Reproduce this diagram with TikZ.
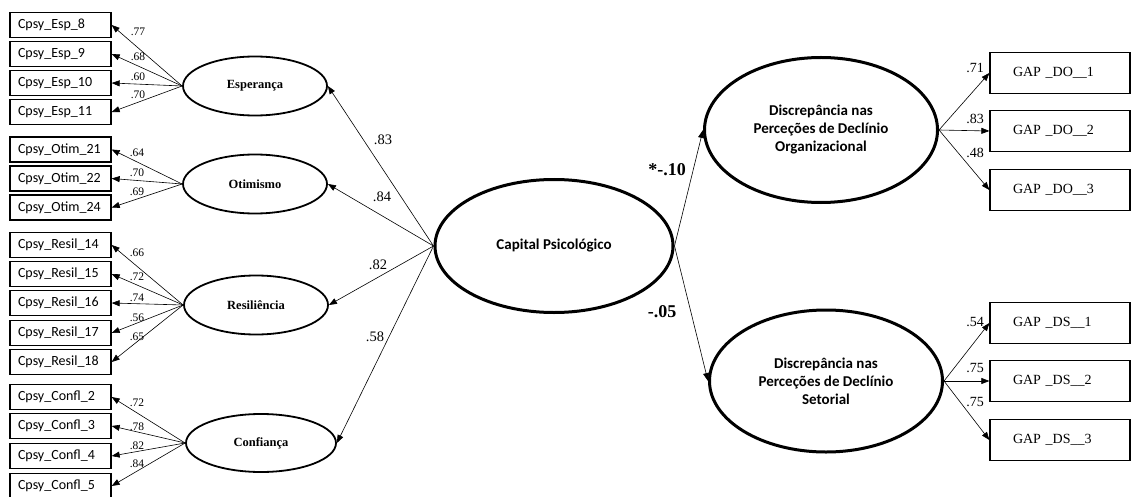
\documentclass[tikz,border=0pt]{standalone}
\usepackage{fontspec}
\setmainfont{Liberation Serif}
\newfontfamily\calibri{Carlito}
\usetikzlibrary{shapes.geometric,arrows.meta}
\begin{document}
\begin{tikzpicture}[x=1pt,y=-1pt,
  item/.style={draw,line width=1.3pt,minimum height=25pt,text width=85pt,
    inner xsep=8pt,inner ysep=0pt,align=left,
    font=\calibri\fontsize{14}{15}\selectfont},
  gapbox/.style={draw,line width=1.3pt,minimum height=41pt,text width=94pt,
    inner xsep=23pt,inner ysep=0pt,align=left,
    font=\fontsize{14}{16}\selectfont},
  factor/.style={ellipse,draw,line width=1.8pt,minimum width=144pt,
    minimum height=59pt,inner sep=0pt,font=\bfseries\fontsize{12.5}{14}\selectfont},
  latent/.style={ellipse,draw,line width=3pt,inner sep=0pt,align=center,
    font=\calibri\bfseries\fontsize{15}{18}\selectfont},
  conn/.style={-{Triangle[length=8pt,width=6pt]},line width=0.6pt},
  smallload/.style={inner sep=0pt,font=\fontsize{11.5}{13}\selectfont},
  bigload/.style={inner sep=0pt,font=\fontsize{14.5}{16}\selectfont},
  pathload/.style={inner sep=0pt,font=\bfseries\fontsize{18}{20}\selectfont}]
\useasboundingbox (0,0) rectangle (1131,497);

% first-order factors of psychological capital
\node[factor] (esp) at (255,86) {Esperança};
\node[factor] (oti) at (255,184) {Otimismo};
\node[factor] (res) at (256,305) {Resiliência};
\node[factor,minimum width=150pt,minimum height=58pt] (con) at (261,443) {Confiança};

% indicators and loadings
\foreach \n/\y/\l/\ly [count=\i] in {8/25/.77/32, 9/54/.68/57, 10/83/.60/77, 11/112/.70/95}{
  \node[item] (esp\i) at (60.5,\y) {Cpsy\_Esp\_\n};
  \draw[conn] (esp.west) -- (esp\i.east);
  \node[smallload] (lesp\i) at (138,\ly) {\l};
}
\foreach \n/\y/\l/\ly [count=\i] in {21/149.5/.64/153, 22/178.5/.70/173, 24/207.5/.69/192}{
  \node[item] (oti\i) at (60.5,\y) {Cpsy\_Otim\_\n};
  \draw[conn] (oti.west) -- (oti\i.east);
  \node[smallload] (loti\i) at (137,\ly) {\l};
}
\foreach \n/\y/\l/\ly [count=\i] in {14/245/.66/253, 15/274/.72/277, 16/303/.74/298, 17/333/.56/318, 18/362/.65/337}{
  \node[item] (res\i) at (60.5,\y) {Cpsy\_Resil\_\n};
  \draw[conn] (res.west) -- (res\i.east);
  \node[smallload] (lres\i) at (137,\ly) {\l};
}
\foreach \n/\y/\l/\ly [count=\i] in {2/397/.72/403, 3/426/.78/427, 4/456/.82/446, 5/486/.84/464}{
  \node[item] (con\i) at (60.5,\y) {Cpsy\_Confl\_\n};
  \draw[conn] (con.west) -- (con\i.east);
  \node[smallload] (lcon\i) at (137,\ly) {\l};
}

% second-order factor
\node[latent,minimum width=238pt,minimum height=133pt] (cap) at (554,246) {Capital Psicológico};
\draw[conn] (cap.west) -- (esp.east);
\draw[conn] (cap.west) -- (oti.east);
\draw[conn] (cap.west) -- (res.east);
\draw[conn] (cap.west) -- (con.east);
\node[bigload] (lcesp) at (383,140) {.83};
\node[bigload] (lcoti) at (382,197) {.84};
\node[bigload] (lcres) at (378,265) {.82};
\node[bigload] (lccon) at (375,337) {.58};

% outcome factors
\node[latent,minimum width=233pt,minimum height=145pt] (do) at (821,130)
  {Discrepância nas\\Perceções de Declínio\\Organizacional};
\node[latent,minimum width=233pt,minimum height=142pt] (ds) at (826,381)
  {Discrepância nas\\Perceções de Declínio\\Setorial};
\draw[conn] (cap.east) -- (do.west);
\draw[conn] (cap.east) -- (ds.west);
\node[pathload] (ldo) at (667,170) {*-.10};
\node[pathload] (lds) at (662,312) {-.05};

% indicators of the outcome factors
\foreach \y/\l/\ly [count=\i] in {73/.71/68, 131/.83/119, 190/.48/153}{
  \node[gapbox] (gdo\i) at (1060,\y) {GAP \_DO\_\_\i};
  \draw[conn] (do.east) -- (gdo\i.west);
  \node[bigload,font=\fontsize{14}{16}\selectfont] (lgdo\i) at (975,\ly) {\l};
}
\foreach \y/\l/\ly [count=\i] in {323/.54/322, 381/.75/368, 440/.75/402}{
  \node[gapbox] (gds\i) at (1060,\y) {GAP \_DS\_\_\i};
  \draw[conn] (ds.east) -- (gds\i.west);
  \node[bigload,font=\fontsize{14}{16}\selectfont] (lgds\i) at (975,\ly) {\l};
}
\end{tikzpicture}
\end{document}
